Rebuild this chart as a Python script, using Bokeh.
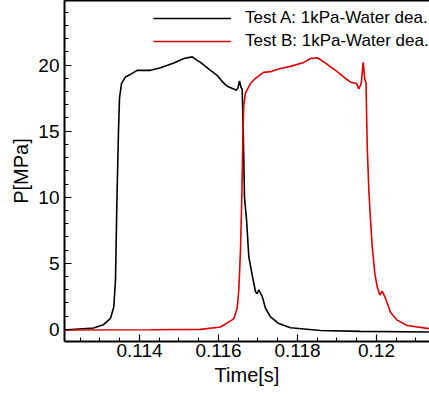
from bokeh.plotting import figure
from bokeh.models import (Range1d, FixedTicker, LinearAxis, CustomJSTickFormatter, Legend, LegendItem)
from bokeh.embed import file_html
from bokeh.resources import INLINE

# ---- data ----
time_a = [0.11210, 0.112835, 0.113089, 0.113266, 0.113349, 0.113392, 0.113430, 0.113468,
          0.113494, 0.113544, 0.113646, 0.113772, 0.113942, 0.114278, 0.114532, 0.114868,
          0.115122, 0.115334, 0.115461, 0.115544, 0.115797, 0.115975, 0.116094, 0.116220,
          0.116456, 0.116494, 0.116532, 0.116570, 0.116600, 0.116633, 0.116658, 0.116710,
          0.116767, 0.116853, 0.116937, 0.116980, 0.117020, 0.117106, 0.117190, 0.117316,
          0.117527, 0.117823, 0.118582, 0.119595, 0.121342]
p_a = [-0.05, 0.10, 0.36, 0.84, 1.7, 3.7, 10.0, 15.0,
       17.5, 18.6, 19.1, 19.3, 19.6, 19.6, 19.8, 20.15,
       20.5, 20.62, 20.35, 20.2, 19.6, 19.2, 18.75, 18.4,
       18.1, 18.3, 18.8, 18.3, 18.2, 14.0, 10.0, 8.3,
       5.5, 4.1, 2.85, 2.7, 3.0, 2.5, 1.6, 0.95,
       0.44, 0.13, -0.08, -0.15, -0.2]

time_b = [0.11210, 0.114278, 0.115544, 0.116051, 0.116387, 0.116473, 0.116514, 0.116557,
          0.116590, 0.116620, 0.116641, 0.116684, 0.116810, 0.116937, 0.117139, 0.117316,
          0.117519, 0.117653, 0.117823, 0.118159, 0.118329, 0.118499, 0.118582, 0.118709,
          0.119005, 0.119215, 0.119342, 0.119494, 0.119552, 0.119613, 0.119663, 0.119704,
          0.119734, 0.119765, 0.119805, 0.119848, 0.119891, 0.119957, 0.120018, 0.120084,
          0.120144, 0.120228, 0.120354, 0.120524, 0.120777, 0.121342]
p_b = [-0.05, -0.03, 0.0, 0.18, 0.8, 1.6, 3.0, 6.0,
       10.0, 15.0, 17.0, 17.9, 18.6, 19.0, 19.45, 19.5,
       19.7, 19.8, 19.9, 20.2, 20.5, 20.55, 20.4, 20.15,
       19.5, 19.0, 18.7, 18.6, 18.2, 18.6, 20.2, 18.9,
       18.7, 13.9, 10.6, 8.3, 6.3, 4.25, 3.2, 2.6,
       2.9, 2.35, 1.3, 0.7, 0.3, 0.05]

x_ticks = [0.114, 0.116, 0.118, 0.12]
x_minor = [0.1125 + 0.0005 * i for i in range(18)]
y_ticks = [0, 5, 10, 15, 20]
y_minor = list(range(0, 25))

label_a = "Test A: 1kPa-Water dea."
label_b = "Test B: 1kPa-Water dea."

FONT = "Liberation Sans"

p = figure(width=429, height=394, output_backend="svg", toolbar_location=None,
           x_range=Range1d(0.1121013, 0.1213418), y_range=Range1d(-0.916, 24.885),
           min_border_left=64, min_border_right=0, min_border_top=0, min_border_bottom=53)
p.outline_line_color = None
p.grid.visible = False
p.background_fill_color = "white"

ra = p.line(time_a, p_a, line_color="black", line_width=1.6)
rb = p.line(time_b, p_b, line_color="#dd0000", line_width=1.6)

for ax in (p.xaxis[0], p.yaxis[0]):
    ax.axis_line_width = 2
    ax.axis_line_color = "black"
    ax.major_tick_in = 7
    ax.major_tick_out = 0
    ax.minor_tick_in = 4
    ax.minor_tick_out = 0
    ax.major_tick_line_color = "black"
    ax.minor_tick_line_color = "black"
    ax.major_tick_line_width = 1.2
    ax.minor_tick_line_width = 1
    ax.major_label_text_font = FONT
    ax.major_label_text_font_size = "19px"
    ax.major_label_text_color = "black"
    ax.axis_label_text_font = FONT
    ax.axis_label_text_font_size = "20px"
    ax.axis_label_text_font_style = "normal"
    ax.axis_label_text_color = "black"

p.xaxis[0].ticker = FixedTicker(ticks=x_ticks, minor_ticks=x_minor)
p.xaxis[0].formatter = CustomJSTickFormatter(code="return String(Number(tick.toFixed(4)));")
p.xaxis[0].axis_label = "Time[s]"
p.xaxis[0].major_label_standoff = 2
p.xaxis[0].axis_label_standoff = 4

p.yaxis[0].ticker = FixedTicker(ticks=y_ticks, minor_ticks=y_minor)
p.yaxis[0].axis_label = "P[MPa]"
p.yaxis[0].major_label_standoff = 5
p.yaxis[0].axis_label_standoff = 3

top = LinearAxis(ticker=FixedTicker(ticks=[]), axis_line_width=2, axis_line_color="black",
                 major_tick_line_color=None, minor_tick_line_color=None,
                 major_label_text_font_size="0px", major_label_standoff=0)
p.add_layout(top, "above")

legend = Legend(items=[LegendItem(label=label_a, renderers=[ra]),
                       LegendItem(label=label_b, renderers=[rb])],
                location=(89, 290), orientation="vertical",
                background_fill_alpha=0, border_line_color=None,
                padding=0, margin=0, spacing=3,
                glyph_width=78, glyph_height=18, label_height=18,
                label_standoff=14, label_text_font=FONT, label_text_font_size="17px",
                label_text_color="black")
p.add_layout(legend, "center")

open("out.html", "w").write(file_html(p, INLINE))
